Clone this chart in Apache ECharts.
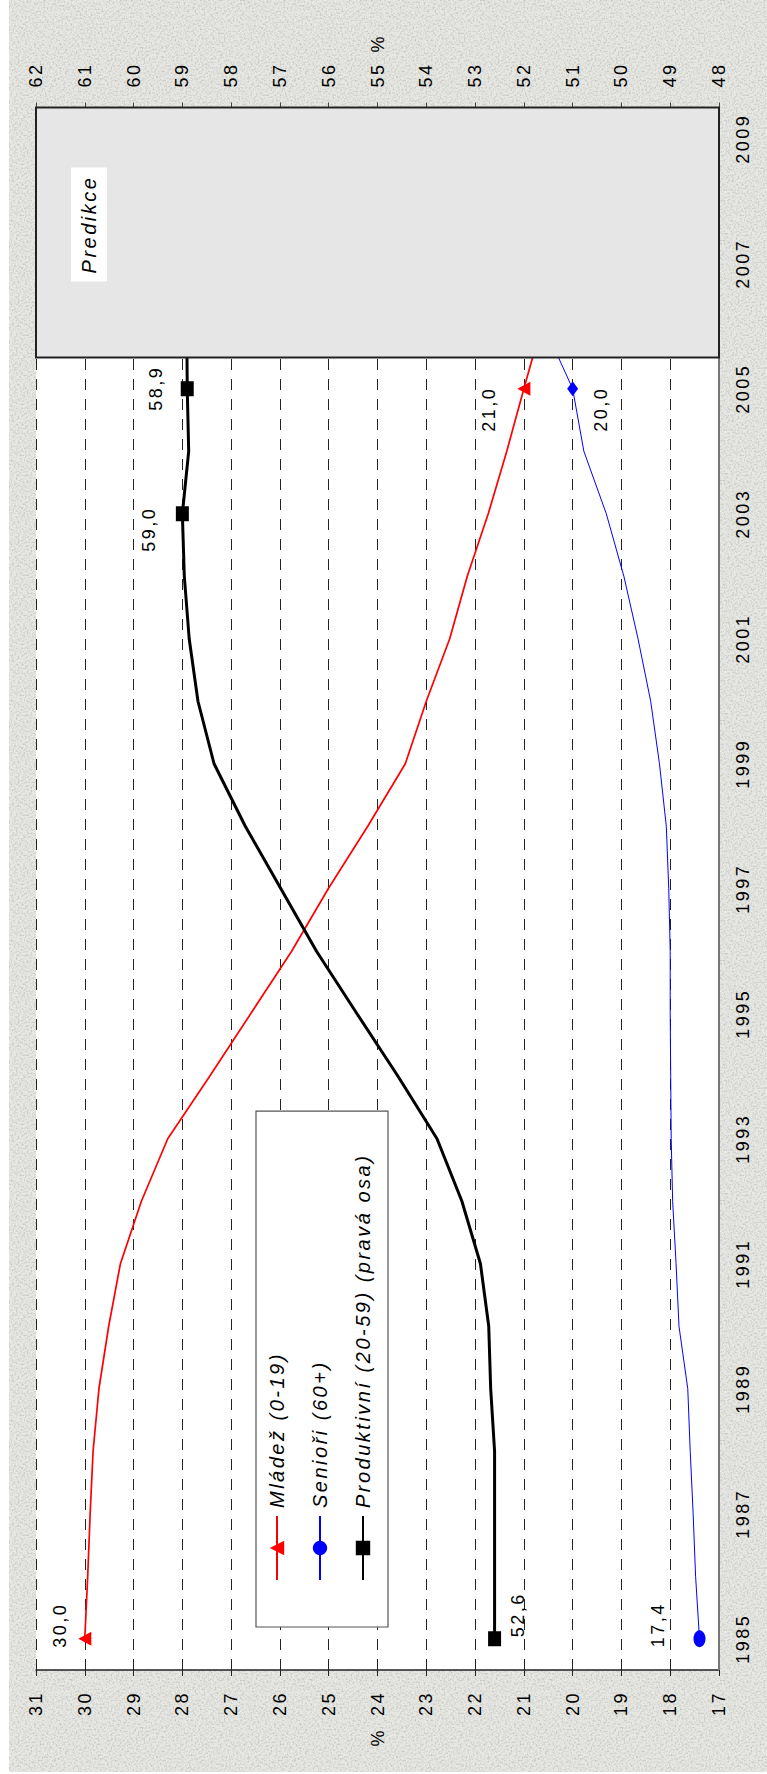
<!DOCTYPE html>
<html lang="cs">
<head>
<meta charset="utf-8">
<title>Věková struktura obyvatelstva 1985–2009</title>
<script src="https://cdn.jsdelivr.net/npm/echarts@6/dist/echarts.min.js"></script>
<style>
  html, body { margin: 0; padding: 0; background: #fff; width: 767px; height: 1774px; overflow: hidden; }
  /* granite-like paper behind the whole chart */
  #paper {
    position: absolute; left: 9px; top: 0; width: 758px; height: 1772px;
    background-color: #e7e7e3;
    background-image: url("data:image/svg+xml;utf8,<svg xmlns='http://www.w3.org/2000/svg' width='240' height='240'><filter id='n'><feTurbulence type='fractalNoise' baseFrequency='0.55' numOctaves='2' stitchTiles='stitch'/><feColorMatrix values='0 0 0 0 0.55  0 0 0 0 0.55  0 0 0 0 0.53  2.4 0 0 0 -1.05'/></filter><rect width='100%' height='100%' filter='url(%23n)'/></svg>");
  }
  /* the chart is laid out landscape and turned a quarter turn counter-clockwise */
  #chart {
    position: absolute; left: 0; top: 0; width: 1774px; height: 767px;
    transform-origin: 0 0; transform: translate(0, 1774px) rotate(-90deg);
  }
  #chart text { letter-spacing: 2.5px; }
</style>
</head>
<body>
<div id="paper"></div>
<div id="chart"></div>
<script>
// ---- data -------------------------------------------------------------
const years = ['1985','1986','1987','1988','1989','1990','1991','1992','1993','1994',
               '1995','1996','1997','1998','1999','2000','2001','2002','2003','2004',
               '2005','2006','2007','2008','2009'];

// share of population, %
const mladez      = [30.0, 29.94, 29.89, 29.83, 29.71, 29.51, 29.27, 28.84, 28.30, 27.44,
                     26.60, 25.76, 25.01, 24.20, 23.43, 23.00, 22.52, 22.16, 21.73, 21.35,
                     21.0, 20.64, null, null, null];
const seniori     = [17.4, 17.48, 17.53, 17.59, 17.64, 17.82, 17.88, 17.95, 17.98, 17.99,
                     18.00, 18.00, 18.03, 18.08, 18.22, 18.40, 18.66, 18.95, 19.31, 19.77,
                     20.0, 20.58, null, null, null];
const produktivni = [52.6, 52.6, 52.6, 52.6, 52.68, 52.72, 52.89, 53.27, 53.78, 54.58,
                     55.42, 56.25, 56.98, 57.71, 58.35, 58.68, 58.86, 58.96, 59.0, 58.87,
                     58.9, 58.91, null, null, null];

const leftAxisRange  = [17, 31];
const rightAxisRange = [48, 62];
const predictionSpan = ['2006', '2009'];

const seriesNames = ['Mládež (0-19)', 'Senioři (60+)', 'Produktivní (20-59) (pravá osa)'];

// indices of years that carry a marker and a value label
const markedPoints = { mladez: [0, 20], seniori: [0, 20], produktivni: [0, 18, 20] };

// ---- styling ----------------------------------------------------------
const FONT = 'Liberation Sans, Arial, sans-serif';
const labelOffsets = {
  mladez:      { 0: [13.5, -24.5], 20: [-20.5, -35] },
  seniori:     { 0: [14, -41],     20: [-20.5, 28.5] },
  produktivni: { 0: [24, 23],      18: [-15.5, -33.5], 20: [0.5, -31] }
};
const symbolStyle = {
  mladez:      i => ({ symbol: 'triangle', symbolSize: [14, 13] }),
  seniori:     i => (i === 0 ? { symbol: 'circle', symbolSize: [17, 12] }
                             : { symbol: 'diamond', symbolSize: [15, 11] }),
  produktivni: i => ({ symbol: 'rect', symbolSize: [15, 13] })
};

const fmt = p => Number(p.value).toFixed(1).replace('.', ',');

function buildData(values, key) {
  return values.map((v, i) => {
    if (v == null) return null;
    if (!markedPoints[key].includes(i)) return { value: v, symbol: 'none' };
    return Object.assign({ value: v }, symbolStyle[key](i), {
      label: {
        show: true, position: 'inside', offset: labelOffsets[key][i],
        formatter: fmt, color: '#000', fontSize: 18, fontFamily: FONT
      }
    });
  });
}

const axisLabelStyle = { color: '#000', fontSize: 18, fontFamily: FONT };

const chart = echarts.init(document.getElementById('chart'), null, { renderer: 'svg' });

chart.setOption({
  animation: false,
  backgroundColor: 'transparent',
  textStyle: { fontFamily: FONT },
  grid: { left: 104, right: 107.5, top: 36, bottom: 48, show: true, backgroundColor: '#fff', borderWidth: 0 },
  legend: {
    data: seriesNames,
    orient: 'vertical',
    left: 147, top: 256,
    padding: [11, 120, 15, 46],
    itemWidth: 64, itemHeight: 18, itemGap: 23,
    backgroundColor: '#fff', borderColor: '#555', borderWidth: 1.2,
    textStyle: { fontSize: 20, fontStyle: 'italic', color: '#000', fontFamily: FONT, padding: [0, 0, 0, 3] }
  },
  xAxis: {
    type: 'category', data: years, position: 'bottom', boundaryGap: true,
    axisLine: { onZero: false, lineStyle: { color: '#777', width: 2 } },
    axisTick: { interval: 0, length: 6, lineStyle: { color: '#555', width: 1 } },
    axisLabel: Object.assign({ interval: 1, margin: 15 }, axisLabelStyle),
    splitLine: { show: false }
  },
  yAxis: [
    {
      type: 'value', position: 'left', min: leftAxisRange[0], max: leftAxisRange[1], interval: 1,
      name: '%', nameLocation: 'middle', nameRotate: 0, nameGap: 58,
      nameTextStyle: axisLabelStyle,
      axisLine: { show: true, lineStyle: { color: '#222', width: 1.5 } },
      axisTick: { show: true, length: 6, lineStyle: { color: '#222' } },
      axisLabel: Object.assign({ margin: 21 }, axisLabelStyle),
      splitLine: { show: true, lineStyle: { color: '#222', width: 1, type: [11, 9] } }
    },
    {
      type: 'value', position: 'right', min: rightAxisRange[0], max: rightAxisRange[1], interval: 1,
      name: '%', nameLocation: 'middle', nameRotate: 0, nameGap: 55,
      nameTextStyle: axisLabelStyle,
      axisLine: { show: true, lineStyle: { color: '#444', width: 1 } },
      axisTick: { show: true, length: 5, lineStyle: { color: '#444' } },
      axisLabel: Object.assign({ margin: 20 }, axisLabelStyle),
      splitLine: { show: false }
    }
  ],
  series: [
    {
      name: seriesNames[0], type: 'line', yAxisIndex: 0, z: 2,
      data: buildData(mladez, 'mladez'),
      symbol: 'triangle', symbolSize: [14, 13],
      lineStyle: { color: '#ff0000', width: 1.7 }, itemStyle: { color: '#ff0000' }
    },
    {
      name: seriesNames[1], type: 'line', yAxisIndex: 0, z: 3,
      data: buildData(seniori, 'seniori'),
      symbol: 'circle', symbolSize: [17, 12],
      lineStyle: { color: '#0000ff', width: 1 }, itemStyle: { color: '#0000ff' }
    },
    {
      name: seriesNames[2], type: 'line', yAxisIndex: 1, z: 4,
      data: buildData(produktivni, 'produktivni'),
      symbol: 'rect', symbolSize: [15, 13],
      lineStyle: { color: '#000', width: 3 }, itemStyle: { color: '#000' }
    },
    {
      // forecast band drawn over the lines
      name: 'Predikce', type: 'bar', yAxisIndex: 0, data: [], z: 10,
      markArea: {
        silent: true, z: 10,
        itemStyle: { color: '#e6e6e6', borderColor: '#222', borderWidth: 2 },
        label: {
          show: true, position: 'insideTop', distance: 36, offset: [8, 0],
          color: '#000', fontSize: 20, fontStyle: 'italic', fontFamily: FONT,
          backgroundColor: '#fff', padding: [8, 18]
        },
        data: [[{ name: 'Predikce', xAxis: predictionSpan[0] }, { xAxis: predictionSpan[1] }]]
      }
    }
  ]
});
</script>
</body>
</html>
